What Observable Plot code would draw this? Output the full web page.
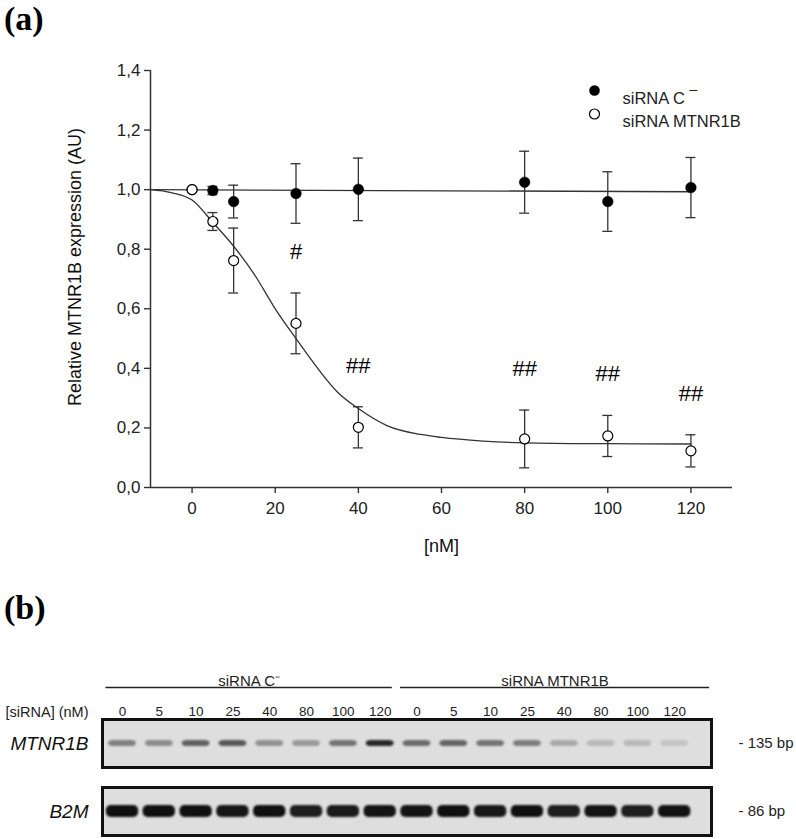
<!DOCTYPE html>
<html>
<head>
<meta charset="utf-8">
<script src="https://cdn.jsdelivr.net/npm/d3@7"></script>
<script src="https://cdn.jsdelivr.net/npm/@observablehq/plot@0.6"></script>
<style>
  html, body { margin: 0; padding: 0; background: #fff; }
  #root { position: relative; width: 796px; height: 839px; overflow: hidden; font-family: "Liberation Sans", Arial, sans-serif; }
  .panel-label { position: absolute; left: 4px; font-family: "Liberation Serif", "Times New Roman", serif; font-weight: bold; font-size: 34px; line-height: 1; color: #000; }
  #chartA { position: absolute; left: 0; top: 0; }
  #chartB { position: absolute; left: 0; top: 640px; }
</style>
</head>
<body>
<div id="root">
  <div id="chartA"></div>
  <div id="chartB"></div>
  <div class="panel-label" style="top:2px">(a)</div>
  <div class="panel-label" style="top:591px">(b)</div>
</div>
<script>
// ---------- Panel (a) data ----------
const concentrations = [0, 5, 10, 25, 40, 80, 100, 120];
const controlMean   = [1.000, 0.997, 0.960, 0.987, 1.001, 1.025, 0.960, 1.007];
const controlErr    = [0.000, 0.014, 0.055, 0.100, 0.105, 0.104, 0.100, 0.101];
const knockdownMean = [1.000, 0.893, 0.762, 0.551, 0.202, 0.163, 0.173, 0.123];
const knockdownErr  = [0.000, 0.030, 0.109, 0.102, 0.069, 0.097, 0.069, 0.054];
const knockdownSig  = ["", "", "", "#", "##", "##", "##", "##"];
// fitted curves
const knockdownFitX = [-10, -5, 0, 5, 10, 15, 20, 25, 30, 35, 40, 47, 55, 60, 70, 80, 100, 120];
const knockdownFitY = [1.0, 0.99, 0.965, 0.89, 0.81, 0.715, 0.60, 0.50, 0.404, 0.32, 0.265, 0.207, 0.178, 0.168, 0.156, 0.150, 0.147, 0.146];
const controlFitX = [-10, 120];
const controlFitY = [1.0, 0.993];
const xTicks = [0, 20, 40, 60, 80, 100, 120];
const yTicks = [0, 0.2, 0.4, 0.6, 0.8, 1.0, 1.2, 1.4];
const yLabel = "Relative MTNR1B expression (AU)";
const xLabel = "[nM]";
const legendLabels = ["siRNA C", "siRNA MTNR1B"];

// ---------- Panel (b) data ----------
const laneGroups = ["siRNA C\u207B", "siRNA MTNR1B"];
const laneConc = ["0", "5", "10", "25", "40", "80", "100", "120"];
const genes = ["MTNR1B", "B2M"];
const bpLabels = ["- 135 bp", "- 86 bp"];
const concLabel = "[siRNA] (nM)";
const mtnr1bBand = [0.42, 0.36, 0.58, 0.62, 0.34, 0.30, 0.48, 0.86, 0.52, 0.56, 0.48, 0.44, 0.22, 0.14, 0.14, 0.09];
const b2mBand    = [0.97, 0.97, 0.97, 0.94, 0.97, 0.90, 0.92, 0.95, 0.95, 0.97, 0.93, 0.97, 0.90, 0.96, 0.90, 0.96];

// ---------- Build panel (a) ----------
const ctrl = concentrations.map((x, i) => ({x, y: controlMean[i], e: controlErr[i]}));
const kd = concentrations.map((x, i) => ({x, y: knockdownMean[i], e: knockdownErr[i], sig: knockdownSig[i]}));
const kdFit = knockdownFitX.map((x, i) => ({x, y: knockdownFitY[i]}));
const ctrlFit = controlFitX.map((x, i) => ({x, y: controlFitY[i]}));
const bars = [...ctrl, ...kd].filter(d => d.e > 0);
const capHalf = 1.2;
const comma = d => d.toFixed(1).replace(".", ",");
const ink = "#333";
const sans = "'Liberation Sans', Arial, sans-serif";

const plotA = Plot.plot({
  width: 796, height: 580,
  marginLeft: 150, marginRight: 64, marginTop: 70, marginBottom: 93,
  x: {domain: [-10, 130]},
  y: {domain: [0, 1.4]},
  style: {fontFamily: sans, fontSize: "17px", color: "#222", background: "#fff"},
  marks: [
    Plot.axisX({ticks: xTicks, tickSize: 6, tickPadding: 8, label: null, stroke: ink, strokeWidth: 1.4, fill: "#222", fontSize: 17}),
    Plot.axisY({ticks: yTicks, tickSize: 6, tickPadding: 4, tickFormat: comma, label: null, stroke: ink, strokeWidth: 1.4, fill: "#222", fontSize: 17}),
    Plot.ruleX([-10], {stroke: ink, strokeWidth: 1.5}),
    Plot.ruleY([0], {stroke: ink, strokeWidth: 1.5}),
    Plot.text([yLabel], {text: d => d, frameAnchor: "left", textAnchor: "middle", rotate: -90, dx: -75, dy: -12, fontSize: 18, fill: "#111"}),
    Plot.text([xLabel], {text: d => d, frameAnchor: "bottom", dy: 64, fontSize: 18, fill: "#111"}),
    Plot.line(ctrlFit, {x: "x", y: "y", stroke: ink, strokeWidth: 1.3}),
    Plot.line(kdFit, {x: "x", y: "y", stroke: ink, strokeWidth: 1.3, curve: "monotone-x"}),
    Plot.ruleX(bars, {x: "x", y1: d => d.y - d.e, y2: d => d.y + d.e, stroke: ink, strokeWidth: 1.3}),
    Plot.ruleY(bars, {y: d => d.y + d.e, x1: d => d.x - capHalf, x2: d => d.x + capHalf, stroke: ink, strokeWidth: 1.3}),
    Plot.ruleY(bars, {y: d => d.y - d.e, x1: d => d.x - capHalf, x2: d => d.x + capHalf, stroke: ink, strokeWidth: 1.3}),
    Plot.dot(ctrl, {x: "x", y: "y", r: 5.3, fill: "#000", stroke: "#000", strokeWidth: 0.5}),
    Plot.dot(kd, {x: "x", y: "y", r: 5, fill: "#fff", stroke: "#000", strokeWidth: 1.2}),
    Plot.text(kd.filter(d => d.sig), {x: "x", y: d => d.y + d.e, text: "sig", dy: -41, fontSize: 22, fill: "#000"}),
    // legend
    Plot.dot([legendLabels[0]], {frameAnchor: "top-right", dx: -138, dy: 20, r: 5.3, fill: "#000"}),
    Plot.dot([legendLabels[1]], {frameAnchor: "top-right", dx: -138, dy: 43.5, r: 5, fill: "#fff", stroke: "#000", strokeWidth: 1.2}),
    Plot.text([legendLabels[0]], {text: d => d, frameAnchor: "top-right", textAnchor: "start", dx: -110, dy: 22, fontSize: 16.5, fill: "#222"}),
    Plot.text(["\u2013"], {text: d => d, frameAnchor: "top-right", textAnchor: "middle", dx: -39, dy: 14, fontSize: 14, fill: "#222"}),
    Plot.text([legendLabels[1]], {text: d => d, frameAnchor: "top-right", textAnchor: "start", dx: -110, dy: 45, fontSize: 16.5, fill: "#222"})
  ]
});
document.getElementById("chartA").append(plotA);

// ---------- Build panel (b) ----------
const lanes = laneGroups.flatMap((g, gi) => laneConc.map((c, ci) => ({lane: gi * laneConc.length + ci, conc: c, group: g})));
const bandIntensity = {MTNR1B: mtnr1bBand, B2M: b2mBand};
const bandHalfHeight = {MTNR1B: 0.065, B2M: 0.125};
const bandHalfWidth = {MTNR1B: 0.38, B2M: 0.44};
const bands = genes.flatMap(g => lanes.map(l => ({gene: g, lane: l.lane, intensity: bandIntensity[g][l.lane]})));
const groups = laneGroups.map((g, gi) => {
  const first = gi * laneConc.length, last = first + laneConc.length - 1;
  const x1 = first - 0.45, x2 = gi === laneGroups.length - 1 ? last + 0.95 : last + 0.33;
  return {label: g, x1, x2, mid: (x1 + x2) / 2};
});
const topFacet = () => "MTNR1B";

const plotB = Plot.plot({
  width: 796, height: 199,
  marginLeft: 102, marginRight: 85, marginTop: 79, marginBottom: 3,
  x: {domain: [-0.543, 16.0], axis: null},
  y: {domain: [0, 1], axis: null},
  fy: {domain: genes, axis: null, label: null, paddingInner: 0.292, paddingOuter: 0},
  color: {type: "linear", domain: [0, 1], range: ["#d6d6d6", "#0a0a0a"]},
  style: {fontFamily: sans, fontSize: "14px", color: "#222", background: "#fff"},
  marks: [
    Plot.frame({fill: "#dedede", stroke: "#111", strokeWidth: 3}),
    Plot.rect(bands, {
      x1: d => d.lane - bandHalfWidth[d.gene], x2: d => d.lane + bandHalfWidth[d.gene],
      y1: d => 0.5 - bandHalfHeight[d.gene], y2: d => 0.5 + bandHalfHeight[d.gene],
      fy: "gene", fill: "intensity", rx: 5
    }),
    Plot.text(genes, {fy: d => d, text: d => d, frameAnchor: "left", textAnchor: "end", dx: -14, fontSize: 19, fontStyle: "italic", fill: "#111"}),
    Plot.text(genes, {fy: d => d, text: (d, i) => bpLabels[i], frameAnchor: "right", textAnchor: "start", dx: 27, fontSize: 15, fill: "#222"}),
    Plot.text(lanes, {x: "lane", fy: topFacet, text: "conc", frameAnchor: "top", dy: -13, fontSize: 13.5, fill: "#222"}),
    Plot.text([concLabel], {fy: topFacet, text: d => d, frameAnchor: "top-left", textAnchor: "end", dx: -14, dy: -13, fontSize: 14.5, fill: "#222"}),
    Plot.ruleY(groups, {y: () => 1, x1: "x1", x2: "x2", fy: topFacet, dy: -32, stroke: "#222", strokeWidth: 1.3}),
    Plot.text(groups, {x: "mid", fy: topFacet, text: "label", frameAnchor: "top", dy: -44, fontSize: 15, fill: "#222"})
  ]
});
plotB.querySelectorAll('g[aria-label="rect"]').forEach(g => { g.style.filter = "blur(1.1px)"; });
document.getElementById("chartB").append(plotB);
</script>
</body>
</html>
